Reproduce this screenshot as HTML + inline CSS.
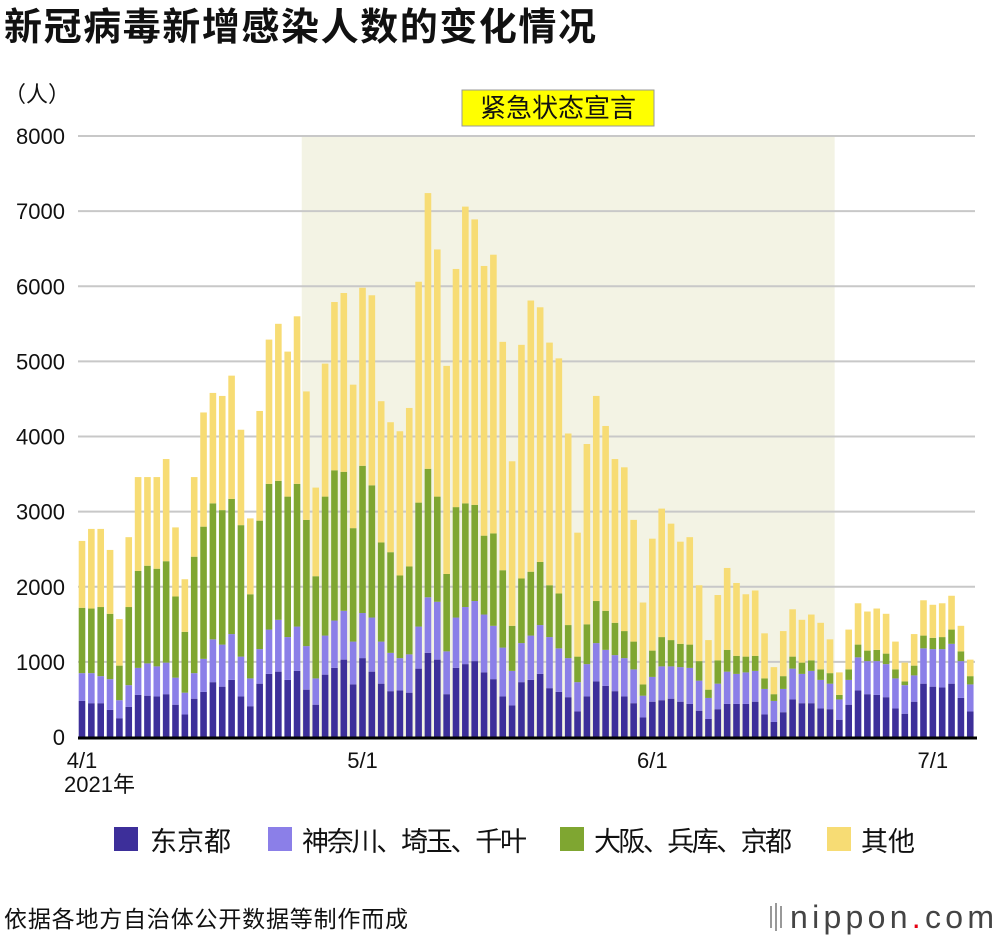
<!DOCTYPE html>
<html><head><meta charset="utf-8">
<style>
body{margin:0;background:#fff;width:1000px;height:938px;overflow:hidden;font-family:"Liberation Sans","Noto Sans CJK SC",sans-serif;}
svg text{font-family:"Liberation Sans","Noto Sans CJK SC",sans-serif;}
</style></head>
<body>
<svg id="chart" width="1000" height="938" xmlns="http://www.w3.org/2000/svg">
<text x="4" y="40" font-size="38" font-weight="bold" fill="#111" textLength="592">新冠病毒新增感染人数的变化情况</text>
<text x="4" y="102" font-size="22" fill="#111">（人）</text>
<g id="grid"></g>
<g id="bars"></g>
<g id="axes"></g>
<g font-size="27" fill="#111">
<rect x="114" y="827" width="24" height="24" fill="#3d2f9a"/>
<text x="150" y="851">东京都</text>
<rect x="268" y="827" width="24" height="24" fill="#8b7fe8"/>
<text x="302" y="851" textLength="225">神奈川、埼玉、千叶</text>
<rect x="560" y="827" width="24" height="24" fill="#7fa631"/>
<text x="594" y="851" textLength="198">大阪、兵库、京都</text>
<rect x="827" y="827" width="24" height="24" fill="#f7dc74"/>
<text x="861" y="851">其他</text>
</g>
<text x="4" y="927" font-size="23" fill="#111" textLength="404">依据各地方自治体公开数据等制作而成</text>
<g>
<rect x="770" y="906" width="2" height="22" fill="#999"/><rect x="775" y="903" width="2" height="28" fill="#999"/><rect x="780" y="906" width="2" height="22" fill="#999"/>
<text x="790" y="928" font-size="32" fill="#444" textLength="204">nippon<tspan fill="#e60012">.</tspan>com</text>
</g>
</svg>
<script>
const tokyo=[480,450,450,360,250,400,560,550,540,570,430,300,510,600,730,670,760,540,410,710,840,870,760,880,630,430,830,920,1030,700,1050,870,710,610,620,590,910,1120,1030,570,920,970,1010,860,770,540,420,730,760,840,650,600,530,340,540,740,680,610,540,450,260,470,490,510,470,440,350,240,370,440,440,440,470,300,200,330,500,450,450,380,370,230,430,620,570,560,530,380,310,470,710,670,660,710,520,340];
const kanto=[370,400,360,410,240,290,360,430,400,420,360,290,340,440,570,560,610,530,370,460,590,690,570,590,580,350,520,630,650,570,600,720,560,510,430,510,560,740,770,570,670,760,800,770,710,650,460,520,590,650,680,580,520,390,430,510,480,480,510,450,290,330,450,430,460,480,400,280,340,430,400,420,410,340,280,310,410,390,430,380,340,270,330,440,440,450,440,400,380,350,470,500,510,530,490,360];
const kansai=[870,860,920,870,460,1040,1290,1300,1300,1350,1080,810,1550,1760,1810,1790,1800,1750,1120,1710,1940,1850,1870,1900,1680,1360,1850,2000,1850,1510,1960,1760,1320,1340,1100,1170,1650,1710,1400,1030,1470,1380,1280,1050,1230,1030,600,860,850,840,690,730,440,340,530,560,520,430,360,370,150,350,390,350,310,310,260,110,310,290,240,210,200,140,90,170,160,150,140,140,140,60,140,170,140,150,140,120,50,130,170,150,160,190,130,110];
const other=[890,1060,1040,850,620,930,1250,1180,1220,1360,920,700,1060,1520,1470,1520,1640,1270,1010,1460,1920,2090,1930,2230,1710,1180,1770,2240,2380,1910,2370,2530,1880,1730,1920,2110,2940,3670,3290,2770,3170,3950,3800,3590,3710,3040,2190,3110,3610,3390,3230,3130,2550,1650,2400,2730,2460,2180,2180,1620,1090,1490,1710,1550,1360,1430,1010,660,870,1090,970,830,870,600,360,600,630,570,610,620,450,300,530,550,520,550,530,370,250,420,470,440,450,450,340,220];
const yTicks=[0,1000,2000,3000,4000,5000,6000,7000,8000];
const xTickDays=[0,30,61,91];
const xTickLabels=["4/1","5/1","6/1","7/1"];
const emergencyStart=24, emergencyEnd=80;
const colors=["#3d2f9a","#8b7fe8","#7fa631","#f7dc74"];
const seriesNames=["tokyo","kanto","kansai","other"];
const NS="http://www.w3.org/2000/svg";
const x0=82, step=9.35, yBase=737, yScaleK=(737-136)/8000;
const xs=i=>x0+i*step;
const ys=v=>yBase-v*yScaleK;
function mk(tag,attrs,parent){const e=document.createElementNS(NS,tag);for(const k in attrs)e.setAttribute(k,attrs[k]);parent.appendChild(e);return e;}
const grid=document.getElementById('grid'),bars=document.getElementById('bars'),axes=document.getElementById('axes');
const sh=mk('rect',{x:xs(emergencyStart)-step/2,y:ys(8000),width:xs(emergencyEnd)-xs(emergencyStart)+step,height:ys(0)-ys(8000),fill:'#f3f3e4'},grid);


const cx=558;
const lb=mk('rect',{x:cx-96,y:90,width:192,height:36,fill:'#ffff00',stroke:'#999','stroke-width':1},grid);


const lt=mk('text',{x:cx,y:117,'font-size':26,'text-anchor':'middle',fill:'#111'},grid);
lt.textContent='紧急状态宣言';


yTicks.forEach(v=>{
  if(v>0){const l=mk('line',{x1:78,x2:975,y1:ys(v),y2:ys(v),stroke:'#c8c8c8','stroke-width':2},grid);
  
  }
  const t=mk('text',{x:65,y:ys(v)+8,'font-size':22,'text-anchor':'end',fill:'#111'},axes);
  t.textContent=v;
  
  
});
const series=[tokyo,kanto,kansai,other];
for(let i=0;i<tokyo.length;i++){
  let acc=0;
  series.forEach((s,k)=>{
    const y1=ys(acc+s[i]),y2=ys(acc);
    const r=mk('rect',{x:xs(i)-3.3,y:y1,width:6.6,height:Math.max(0,y2-y1),fill:colors[k]},bars);
    
    
    acc+=s[i];
  });
}
const ax=mk('line',{x1:78,x2:977,y1:yBase+1,y2:yBase+1,stroke:'#000','stroke-width':3},axes);


xTickDays.forEach((d,j)=>{
  const t=mk('text',{x:xs(d),y:768,'font-size':22,'text-anchor':'middle',fill:'#111'},axes);
  t.textContent=xTickLabels[j];
  
  
});
const yr=mk('text',{x:xs(0)-18,y:792,'font-size':22,fill:'#111'},axes);
yr.textContent='2021年';


</script>
</body></html>
